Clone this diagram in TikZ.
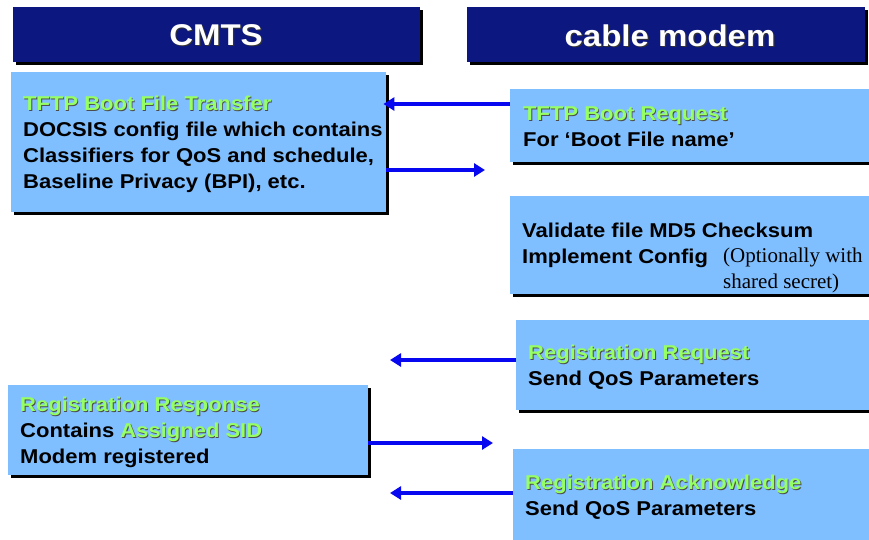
\documentclass[tikz,border=0pt]{standalone}
\usepackage{fontspec}
\setmainfont{Liberation Sans}[FakeStretch=1.1]
\newfontfamily\timesf{Liberation Serif}
\usetikzlibrary{arrows.meta,shadows}
\definecolor{navy}{RGB}{12,24,128}
\definecolor{boxblue}{RGB}{128,191,255}
\definecolor{lgreen}{RGB}{150,255,100}
\definecolor{arrblue}{RGB}{8,8,240}
\newcommand\gsh[1]{\leavevmode\rlap{\hspace{0.9pt}\raisebox{-0.9pt}{\textcolor{black!70}{#1}}}\textcolor{lgreen}{#1}}
\newcommand\wsh[1]{\leavevmode\rlap{\hspace{1.2pt}\raisebox{-1.2pt}{\textcolor{black!80}{#1}}}\textcolor{white}{#1}}
\begin{document}
\begin{tikzpicture}[x=1pt,y=-1pt,
  hdr/.style={fill=navy, draw=none, minimum height=55pt,
    drop shadow={shadow xshift=3pt,shadow yshift=-3pt,opacity=1,fill=black}},
  hdrtxt/.style={inner sep=0pt, font=\fontsize{30}{36}\selectfont\bfseries},
  bx/.style={fill=boxblue, draw=none, anchor=north west,
    drop shadow={shadow xshift=3pt,shadow yshift=-3pt,opacity=1,fill=black}},
  txt/.style={anchor=west, align=left, inner sep=0pt,
    font=\fontsize{20}{26}\selectfont\bfseries},
  serif/.style={anchor=west, align=left, inner sep=0pt,
    font=\fontsize{21}{26}\selectfont\timesf},
  arr/.style={draw=arrblue, line width=4pt, -{Triangle[length=11pt,width=13pt]}}]
\useasboundingbox (0,0) rectangle (869,539);
\fill[white] (0,0) rectangle (869,539);
\clip (0,0) rectangle (869,539);

% headers
\node[hdr, anchor=north west, minimum width=407pt] (hc) at (13,7) {};
\node[hdr, anchor=north west, minimum width=398pt] (hm) at (467,7) {};
\node[hdrtxt] (hct) at (216,36) {\wsh{CMTS}};
\node[hdrtxt] (hmt) at (670,36) {\wsh{cable modem}};

% boxes
\node[bx, minimum width=375pt, minimum height=140pt] (b1) at (11,72) {};
\node[bx, minimum width=375pt, minimum height=73pt] (b2) at (510,89) {};
\node[bx, minimum width=375pt, minimum height=98pt] (b3) at (510,196) {};
\node[bx, minimum width=375pt, minimum height=90pt] (b4) at (516,320) {};
\node[bx, minimum width=360pt, minimum height=90pt] (b5) at (8,385) {};
\node[bx, minimum width=375pt, minimum height=100pt] (b6) at (513,449) {};

% texts
\node[txt] (t1) at (23,144.5) {\gsh{TFTP Boot File Transfer}\\DOCSIS config file which contains\\Classifiers for QoS and schedule,\\Baseline Privacy (BPI), etc.};
\node[txt] (t2) at (523,127) {\gsh{TFTP Boot Request}\\For ‘Boot File name’};
\node[txt] (t3) at (522,245) {Validate file MD5 Checksum\\Implement Config};
\node[serif] (t3b) at (723,270.5) {(Optionally with\\shared secret)};
\node[txt] (t4) at (528,367) {\gsh{Registration Request}\\Send QoS Parameters};
\node[txt] (t5) at (20,432.5) {\gsh{Registration Response}\\Contains \gsh{Assigned SID}\\Modem registered};
\node[txt] (t6) at (525,497.5) {\gsh{Registration Acknowledge}\\Send QoS Parameters};

% connector coordinates
\coordinate (y1) at (0,104);
\coordinate (e2) at (485,170);
\coordinate (e3) at (390,360);
\coordinate (e4) at (493,443);
\coordinate (e5) at (390,493);

% arrows
\draw[arr, shorten >=-3pt] (b2.west |- y1) -- (b1.east |- y1);
\draw[arr] (b1.east |- e2) -- (e2);
\draw[arr] (b4.west |- e3) -- (e3);
\draw[arr] (b5.east |- e4) -- (e4);
\draw[arr] (b6.west |- e5) -- (e5);
\end{tikzpicture}
\end{document}
